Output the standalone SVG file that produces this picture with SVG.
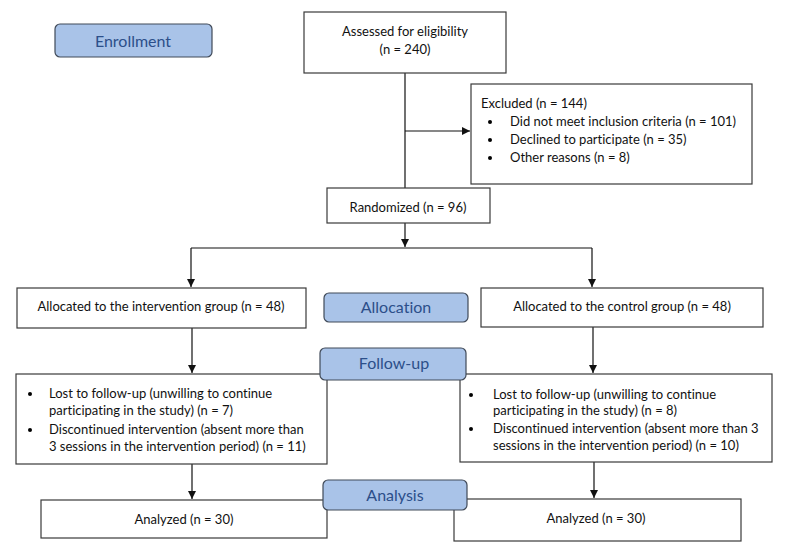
<svg xmlns="http://www.w3.org/2000/svg" width="788" height="557" viewBox="0 0 788 557">
<style>
.box{fill:#fff;stroke:#3a3a3a;stroke-width:1.2}
.lab{fill:#a9c3e8;stroke:#404a58;stroke-width:1.2}
.t{font-family:Lato,"Liberation Sans",sans-serif;font-size:13px;fill:#111;font-variant-ligatures:none}
.lt{font-family:Lato,"Liberation Sans",sans-serif;font-size:16px;fill:#2c4f8a;font-variant-ligatures:none}
.c{text-anchor:middle}
.ln{stroke:#111;stroke-width:1.2;fill:none}
</style>
<defs>
<marker id="ah" viewBox="0 0 10 10" refX="10" refY="5" markerWidth="8" markerHeight="8" markerUnits="userSpaceOnUse" orient="auto">
<path d="M0,0 L10,5 L0,10 z" fill="#111"/>
</marker>
</defs>
<rect width="788" height="557" fill="#fff"/>
<g id="connectors">
<line class="ln" x1="405" y1="73" x2="405" y2="188"/>
<line class="ln" x1="405" y1="131" x2="470" y2="131" marker-end="url(#ah)"/>
<line class="ln" x1="405" y1="223" x2="405" y2="247" marker-end="url(#ah)"/>
<line class="ln" x1="191" y1="248" x2="592" y2="248"/>
<line class="ln" x1="191" y1="248" x2="191" y2="287" marker-end="url(#ah)"/>
<line class="ln" x1="592" y1="248" x2="592" y2="287" marker-end="url(#ah)"/>
<line class="ln" x1="192" y1="328" x2="192" y2="373" marker-end="url(#ah)"/>
<line class="ln" x1="593" y1="327" x2="593" y2="373" marker-end="url(#ah)"/>
<line class="ln" x1="192" y1="464" x2="192" y2="499" marker-end="url(#ah)"/>
<line class="ln" x1="594" y1="462" x2="594" y2="498" marker-end="url(#ah)"/>
</g>
<g id="assessed">
<rect class="box" x="304" y="12" width="202" height="61"/>
<text class="t c" x="405" y="36">Assessed for eligibility</text>
<text class="t c" x="405" y="54">(n = 240)</text>
</g>
<g id="excluded">
<rect class="box" x="471" y="84" width="281" height="100"/>
<text class="t" x="481" y="108">Excluded (n = 144)</text>
<circle cx="490" cy="122" r="2"/>
<circle cx="490" cy="140" r="2"/>
<circle cx="490" cy="158" r="2"/>
<text class="t" x="510" y="126">Did not meet inclusion criteria (n = 101)</text>
<text class="t" x="510" y="144">Declined to participate (n = 35)</text>
<text class="t" x="510" y="162">Other reasons (n = 8)</text>
</g>
<g id="randomized">
<rect class="box" x="327" y="188" width="163" height="35"/>
<text class="t c" x="408" y="212">Randomized (n = 96)</text>
</g>
<g id="alloc-int">
<rect class="box" x="17" y="288" width="289" height="40"/>
<text class="t c" x="161" y="311">Allocated to the intervention group (n = 48)</text>
</g>
<g id="alloc-ctrl">
<rect class="box" x="481" y="288" width="282" height="39"/>
<text class="t c" x="622" y="311">Allocated to the control group (n = 48)</text>
</g>
<g id="fu-int">
<rect class="box" x="16" y="374" width="311" height="90"/>
<circle cx="30" cy="394" r="2"/>
<circle cx="30" cy="430" r="2"/>
<text class="t" x="49" y="398">Lost to follow-up (unwilling to continue</text>
<text class="t" x="49" y="415">participating in the study) (n = 7)</text>
<text class="t" x="49" y="434">Discontinued intervention (absent more than</text>
<text class="t" x="49" y="451">3 sessions in the intervention period) (n = 11)</text>
</g>
<g id="fu-ctrl">
<rect class="box" x="460" y="374" width="312" height="88"/>
<circle cx="471" cy="395" r="2"/>
<circle cx="471" cy="429" r="2"/>
<text class="t" x="493" y="399">Lost to follow-up (unwilling to continue</text>
<text class="t" x="493" y="415">participating in the study) (n = 8)</text>
<text class="t" x="493" y="433">Discontinued intervention (absent more than 3</text>
<text class="t" x="493" y="450">sessions in the intervention period) (n = 10)</text>
</g>
<g id="an-int">
<rect class="box" x="41" y="500" width="286" height="38"/>
<text class="t c" x="184" y="524">Analyzed (n = 30)</text>
</g>
<g id="an-ctrl">
<rect class="box" x="454" y="499" width="287" height="42"/>
<text class="t c" x="596" y="523">Analyzed (n = 30)</text>
</g>
<g id="enrollment">
<rect class="lab" x="55" y="24" width="157" height="33" rx="5"/>
<text class="lt c" x="133" y="47">Enrollment</text>
</g>
<g id="allocation">
<rect class="lab" x="324" y="293" width="144" height="29" rx="5"/>
<text class="lt c" x="396" y="313">Allocation</text>
</g>
<g id="followup">
<rect class="lab" x="320" y="348" width="146" height="32" rx="5"/>
<text class="lt c" x="394" y="369">Follow-up</text>
</g>
<g id="analysis">
<rect class="lab" x="323" y="480" width="144" height="30" rx="5"/>
<text class="lt c" x="395" y="501">Analysis</text>
</g>
</svg>
